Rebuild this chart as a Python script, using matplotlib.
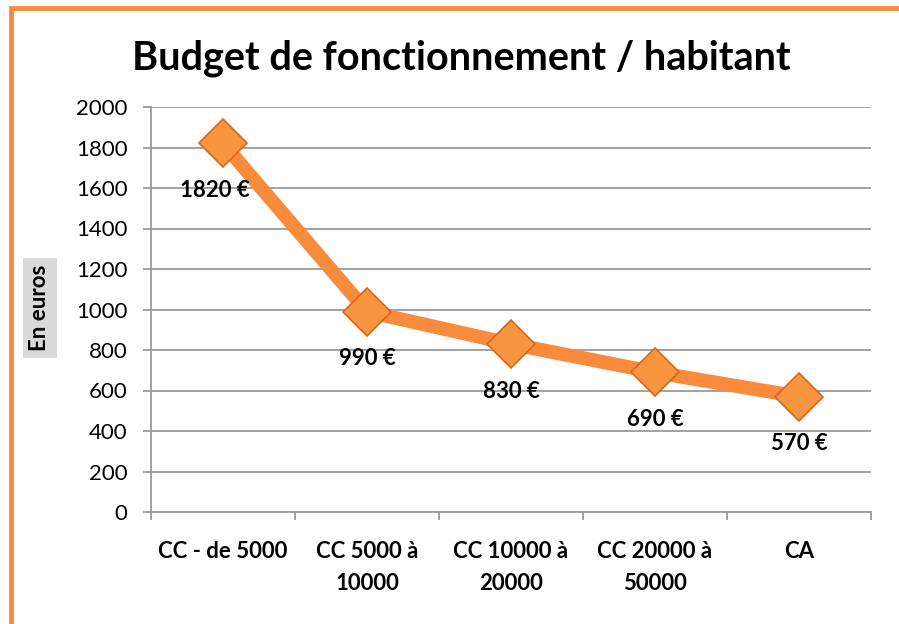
import matplotlib.pyplot as plt
from matplotlib.patches import Rectangle

categories = ['CC - de 5000', 'CC 5000 à\n10000', 'CC 10000 à\n20000', 'CC 20000 à\n50000', 'CA']
values = [1820, 990, 830, 690, 570]
labels = ['1820 €', '990 €', '830 €', '690 €', '570 €']
yticks = [0, 200, 400, 600, 800, 1000, 1200, 1400, 1600, 1800, 2000]

plt.rcParams['font.family'] = ['Lato', 'DejaVu Sans']
orange = '#F98B3C'
grid = '#9a9a9a'

fig = plt.figure(figsize=(8.99, 6.24), dpi=100)
ax = fig.add_axes([151 / 899, 1 - 512 / 624, 720 / 899, 405 / 624])

x = list(range(len(values)))
ax.plot(x, values, color=orange, lw=10, solid_capstyle='butt', zorder=3)
ax.plot(x, values, ls='none', marker='D', markersize=24, markerfacecolor='#F8953F',
        markeredgecolor='#D8661C', markeredgewidth=1.2, zorder=4)

for xi, v, lab in zip(x, values, labels):
    ax.annotate(lab, (xi, v), xytext=(-6 if xi == 0 else 0, -34), textcoords='offset points',
                ha='center', va='center', fontsize=16, fontweight='bold')

ax.set_xlim(-0.5, len(values) - 0.5)
ax.set_ylim(0, 2000)
ax.set_yticks(yticks)
ax.set_yticklabels([str(t) for t in yticks], fontsize=16)
ax.yaxis.grid(True, color=grid, lw=1.3)
ax.set_axisbelow(True)

ax.set_xticks([i - 0.5 for i in range(len(values) + 1)])
ax.set_xticklabels([])
ax.set_xticks(x, minor=True)
ax.set_xticklabels(categories, minor=True, fontsize=16, fontweight='bold', linespacing=1.65)
ax.tick_params(axis='x', which='minor', length=0, pad=21)
ax.tick_params(axis='x', which='major', length=6, color=grid, width=1.3)
ax.tick_params(axis='y', length=6, color=grid, width=1.3, pad=11)
for lab in ax.get_xticklabels(minor=True):
    lab.set_verticalalignment('top')

for s in ['top', 'right']:
    ax.spines[s].set_visible(False)
for s in ['left', 'bottom']:
    ax.spines[s].set_color(grid)
    ax.spines[s].set_linewidth(1.3)

fig.text(40 / 899, 1 - 308 / 624, 'En euros', rotation=90, ha='center', va='center',
         fontsize=16, fontweight='bold',
         bbox=dict(facecolor='#d9d9d9', edgecolor='none', pad=5))

fig.text(461 / 899, 1 - 58 / 624, 'Budget de fonctionnement / habitant',
         ha='center', va='center', fontsize=28.5, fontweight='bold')

fig.patches.append(Rectangle((11 / 899, -0.05), 1.0, 1 - 8 / 624 + 0.05, transform=fig.transFigure,
                             fill=False, edgecolor=orange, lw=3.5))

fig.savefig('out.png', dpi=100)
